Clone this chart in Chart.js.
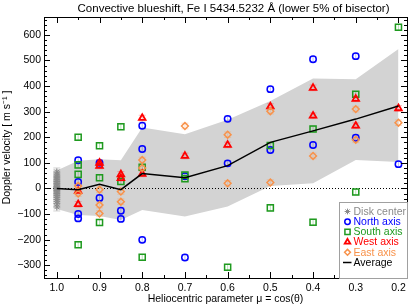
<!DOCTYPE html>
<html>
<head>
<meta charset="utf-8">
<script src="https://cdn.jsdelivr.net/npm/chart.js@4.4.1/dist/chart.umd.min.js"></script>
<style>
  html, body { margin: 0; padding: 0; background: #fff; }
  #wrap { width: 415px; height: 306px; }
</style>
</head>
<body>
<div id="wrap"><canvas id="blueshiftChart" width="415" height="306"></canvas></div>
<script>
// Axis ticks
const muTicks = [1.0, 0.9, 0.8, 0.7, 0.6, 0.5, 0.4, 0.3, 0.2];
const velocityTicks = [-300, -200, -100, 0, 100, 200, 300, 400, 500, 600];

// Disk center measurements (all at mu = 1.0)
const muCenter = [1, 1, 1, 1, 1, 1, 1, 1, 1, 1, 1, 1, 1, 1, 1, 1, 1, 1, 1, 1];
const vCenter = [64, 56, 48, 41, 34, 27, 20, 14, 8, 3, -2, -8, -14, -20, -27, -34, -42, -50, -60, -72];

// North axis
const muNorth = [0.95, 0.95, 0.95, 0.95, 0.9, 0.9, 0.85, 0.85, 0.8, 0.8, 0.8, 0.7, 0.7, 0.6, 0.6, 0.5, 0.5, 0.4, 0.4, 0.3, 0.3, 0.2];
const vNorth = [110, 25, -100, -117, 100, -37, -87, -119, 245, 154, -201, 48, -270, 272, 98, 388, 150, 505, 170, 517, 198, 95];

// South axis
const muSouth = [0.95, 0.95, 0.95, 0.95, 0.9, 0.9, 0.9, 0.85, 0.85, 0.8, 0.8, 0.7, 0.7, 0.6, 0.5, 0.5, 0.4, 0.4, 0.3, 0.3, 0.2];
const vSouth = [200, 92, 55, -220, 167, 42, -133, 241, 27, 83, -269, 52, 38, -308, 168, -76, 232, -132, 368, -14, 630];

// West axis
const muWest = [0.95, 0.95, 0.9, 0.9, 0.85, 0.85, 0.8, 0.8, 0.7, 0.6, 0.5, 0.4, 0.4, 0.3, 0.3, 0.2];
const vWest = [-10, -62, 100, 88, 55, 40, 275, 57, 127, 170, 320, 393, 284, 350, 245, 313];

// East axis
const muEast = [0.95, 0.95, 0.9, 0.9, 0.9, 0.85, 0.85, 0.8, 0.8, 0.7, 0.6, 0.6, 0.5, 0.5, 0.4, 0.3, 0.3, 0.2];
const vEast = [10, -20, -5, -65, -98, -12, -52, 111, 80, 244, 210, 20, 302, 23, 127, 310, 190, 257];

// Average and its spread
const muAverage = [1.0, 0.95, 0.9, 0.85, 0.8, 0.7, 0.6, 0.5, 0.4, 0.3, 0.2];
const vAverage = [0, -5, 16, -5, 58, 42, 89, 180, 225, 271, 322];
const vUpper = [70, 108, 114, 110, 238, 212, 268, 342, 430, 427, 545];
const vLower = [-80, -104, -108, -123, -84, -110, -71, 10, 20, 111, 103];

// Typical measurement errors [m/s]
const errCenter = 16;
const errAxis = 11;

const FONT = "'Liberation Sans', Arial, sans-serif";

function pts(mu, v) {
    return mu.map((m, i) => ({ x: m, y: v[i] }));
}

const series = [
    { label: 'Disk center', mu: muCenter, v: vCenter, color: '#8a8a8a', pale: 'rgba(138,138,138,0.4)', style: 'star', radius: 3.4, width: 1, err: errCenter },
    { label: 'North axis', mu: muNorth, v: vNorth, color: '#0000ff', pale: 'rgba(0,0,255,0.25)', style: 'circle', radius: 3.2, width: 1.5, err: errAxis },
    { label: 'South axis', mu: muSouth, v: vSouth, color: '#1f9a1f', pale: 'rgba(31,154,31,0.3)', style: 'rect', radius: 4.3, width: 1.5, err: errAxis },
    { label: 'West axis', mu: muWest, v: vWest, color: '#ff0000', pale: 'rgba(255,0,0,0.25)', style: 'triangle', radius: 3.8, width: 1.8, err: errAxis },
    { label: 'East axis', mu: muEast, v: vEast, color: '#f8924a', pale: 'rgba(248,146,74,0.3)', style: 'rectRot', radius: 3.4, width: 1.5, err: errAxis }
];

const scatterSets = series.map((s, i) => ({
    type: 'scatter',
    label: s.label,
    data: pts(s.mu, s.v),
    pointStyle: s.style,
    pointRadius: s.radius,
    pointBorderWidth: s.width,
    borderColor: s.color,
    backgroundColor: 'rgba(0,0,0,0)',
    errValue: s.err,
    errColor: s.pale,
    order: 10 - i
}));

const lineSets = [
    {
        type: 'line', label: 'bandUpper', data: pts(muAverage, vUpper),
        borderWidth: 0, pointRadius: 0, fill: '+1', backgroundColor: '#d3d3d3', tension: 0, order: 21
    },
    {
        type: 'line', label: 'bandLower', data: pts(muAverage, vLower),
        borderWidth: 0, pointRadius: 0, fill: false, tension: 0, order: 20
    },
    {
        type: 'line', label: 'Average', data: pts(muAverage, vAverage),
        borderColor: '#000', borderWidth: 1.5, pointRadius: 0, fill: false, tension: 0, order: 0
    }
];

// error bars under each marker
const errorBarPlugin = {
    id: 'errorBars',
    beforeDatasetDraw(chart, args) {
        const ds = chart.data.datasets[args.index];
        if (!ds.errValue) return;
        const y = chart.scales.y;
        const ctx = chart.ctx;
        ctx.save();
        ctx.strokeStyle = ds.errColor;
        ctx.lineWidth = 1;
        args.meta.data.forEach((el, i) => {
            const v = ds.data[i].y;
            const top = y.getPixelForValue(v + ds.errValue);
            const bot = y.getPixelForValue(v - ds.errValue);
            ctx.beginPath();
            ctx.moveTo(el.x, top); ctx.lineTo(el.x, bot);
            ctx.moveTo(el.x - 3.5, top); ctx.lineTo(el.x + 3.5, top);
            ctx.moveTo(el.x - 3.5, bot); ctx.lineTo(el.x + 3.5, bot);
            ctx.stroke();
        });
        ctx.restore();
    },
    afterDatasetDraw(chart, args) {
        // dotted zero line sits on top of the grey band
        if (chart.data.datasets[args.index].label !== 'bandLower') return;
        const { ctx, chartArea } = chart;
        const y0 = Math.round(chart.scales.y.getPixelForValue(0)) + 0.5;
        ctx.save();
        ctx.strokeStyle = '#000';
        ctx.lineWidth = 1;
        ctx.setLineDash([1, 2]);
        ctx.beginPath();
        ctx.moveTo(chartArea.left, y0);
        ctx.lineTo(chartArea.right, y0);
        ctx.stroke();
        ctx.restore();
    }
};

// frame with inward ticks on all four sides, title and legend box
const framePlugin = {
    id: 'frame',
    afterDraw(chart) {
        const { ctx, chartArea: a, scales } = chart;
        ctx.save();
        ctx.strokeStyle = '#000';
        ctx.lineWidth = 1;
        ctx.strokeRect(Math.round(a.left) + 0.5, Math.round(a.top) + 0.5,
            Math.round(a.right - a.left), Math.round(a.bottom - a.top));

        ctx.beginPath();
        for (let k = 0; k <= 20; k++) {
            const m = 0.15 + k * 0.05;
            if (m < scales.x.min || m > scales.x.max) continue;
            const px = Math.round(scales.x.getPixelForValue(m)) + 0.5;
            const len = k % 2 === 1 ? 6 : 3;
            ctx.moveTo(px, a.bottom); ctx.lineTo(px, a.bottom - len);
            ctx.moveTo(px, a.top); ctx.lineTo(px, a.top + len);
        }
        for (let v = -340; v <= 660; v += 20) {
            const py = Math.round(scales.y.getPixelForValue(v)) + 0.5;
            const len = v % 100 === 0 ? 6 : 3;
            ctx.moveTo(a.left, py); ctx.lineTo(a.left + len, py);
            ctx.moveTo(a.right, py); ctx.lineTo(a.right - len, py);
        }
        ctx.stroke();

        // title
        ctx.fillStyle = '#000';
        ctx.font = '11.5px ' + FONT;
        ctx.textAlign = 'center';
        ctx.textBaseline = 'middle';
        ctx.fillText('Convective blueshift, Fe I 5434.5232 Å (lower 5% of bisector)', (a.left + a.right) / 2 + 8, 9);

        // legend
        const bw = 68, bh = 76;
        const bx = Math.round(a.right - bw) + 0.5, by = Math.round(a.bottom - bh) + 0.5;
        ctx.fillStyle = '#fff';
        ctx.fillRect(bx, by, bw, bh);
        ctx.strokeStyle = '#a0a0a0';
        ctx.strokeRect(bx, by, bw, bh);
        ctx.font = '10.5px ' + FONT;
        ctx.textAlign = 'left';
        const entries = series.concat([{ label: 'Average', color: '#000', line: true }]);
        entries.forEach((s, i) => {
            const ly = by + 9 + i * 10.2;
            const sx = bx + 8;
            ctx.strokeStyle = s.color;
            if (s.line) {
                ctx.lineWidth = 1.5;
                ctx.beginPath();
                ctx.moveTo(sx - 4.5, ly); ctx.lineTo(sx + 4, ly);
                ctx.stroke();
            } else if (Chart.helpers && Chart.helpers.drawPoint) {
                ctx.lineWidth = s.width;
                ctx.fillStyle = 'rgba(0,0,0,0)';
                Chart.helpers.drawPoint(ctx, { pointStyle: s.style, radius: s.radius * 0.85, rotation: 0, borderWidth: s.width }, sx, ly);
            }
            ctx.fillStyle = s.color;
            ctx.fillText(s.label, sx + 6, ly + 0.5);
        });
        ctx.restore();
    }
};

new Chart(document.getElementById('blueshiftChart'), {
    type: 'scatter',
    data: { datasets: lineSets.concat(scatterSets) },
    options: {
        responsive: false,
        animation: false,
        layout: { padding: { top: 17, right: 8, left: 0, bottom: 0 } },
        plugins: {
            legend: { display: false },
            tooltip: { enabled: false },
            title: { display: false }
        },
        scales: {
            x: {
                type: 'linear',
                reverse: true,
                min: 0.18,
                max: 1.03,
                grid: { display: false, drawTicks: false },
                border: { display: false },
                afterBuildTicks: (scale) => { scale.ticks = muTicks.map(v => ({ value: v })); },
                afterFit: (scale) => { scale.height = 28; },
                ticks: {
                    color: '#000',
                    padding: 4,
                    maxRotation: 0,
                    font: { family: FONT, size: 10.5 },
                    callback: (v) => Number(v).toFixed(1)
                },
                title: {
                    display: true,
                    text: 'Heliocentric parameter μ = cos(θ)',
                    color: '#000',
                    font: { family: FONT, size: 10.5 },
                    padding: { top: 0, bottom: 1 }
                }
            },
            y: {
                type: 'linear',
                min: -350,
                max: 670,
                grid: { display: false, drawTicks: false },
                border: { display: false },
                afterBuildTicks: (scale) => { scale.ticks = velocityTicks.map(v => ({ value: v })); },
                afterFit: (scale) => { scale.width = 44; },
                ticks: {
                    color: '#000',
                    padding: 3,
                    font: { family: FONT, size: 10.5 },
                    callback: (v) => String(v).replace('-', '\u2212')
                },
                title: {
                    display: true,
                    text: 'Doppler velocity [ m s\u207B\u00B9 ]',
                    color: '#000',
                    font: { family: FONT, size: 10.5 },
                    padding: { top: 1, bottom: 0 }
                }
            }
        }
    },
    plugins: [errorBarPlugin, framePlugin]
});
</script>
</body>
</html>
